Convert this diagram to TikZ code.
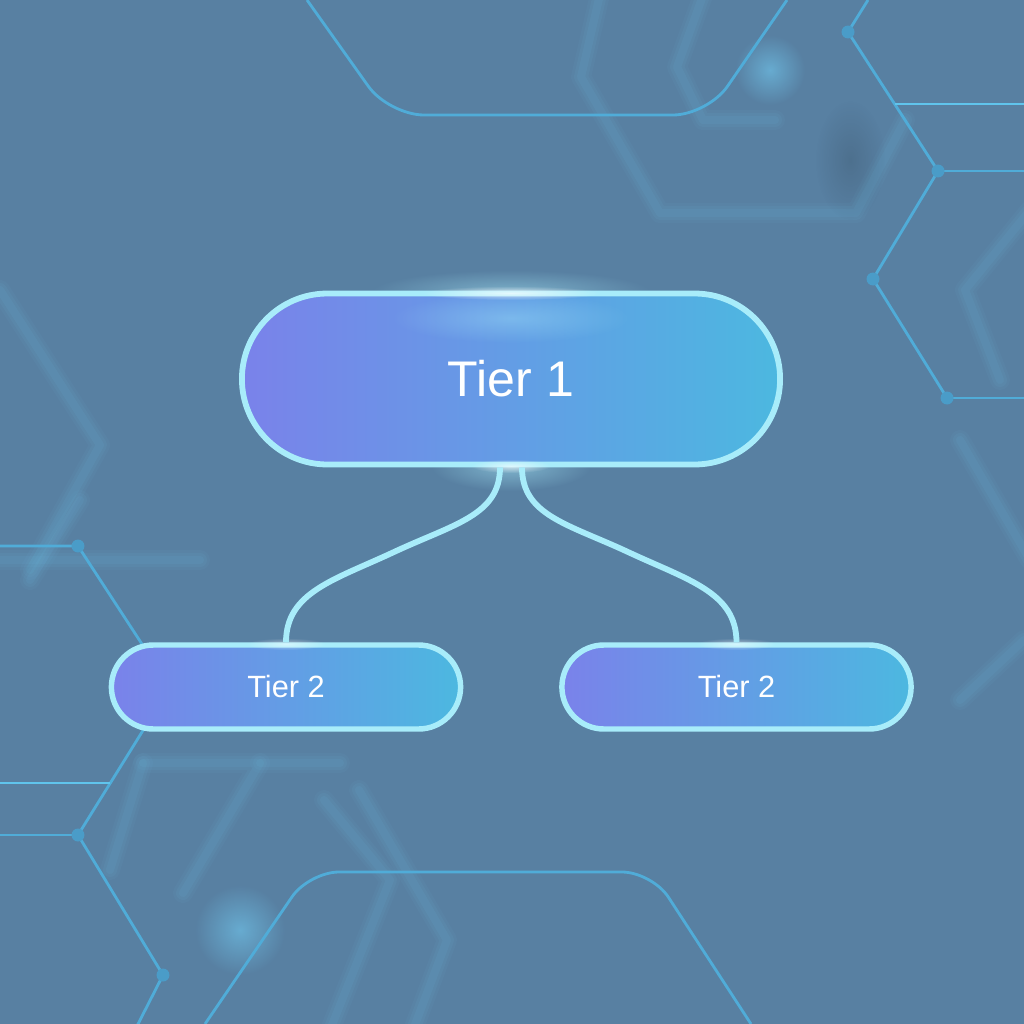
\documentclass[tikz,border=0pt]{standalone}
\usepackage{fontspec}
\setmainfont{Liberation Sans}
\usetikzlibrary{shapes.misc,fadings}
\definecolor{bg}{RGB}{88,128,162}
\definecolor{rim}{RGB}{168,236,250}
\definecolor{netc}{RGB}{80,172,216}
\definecolor{netb}{RGB}{96,196,236}
\definecolor{dotc}{RGB}{74,156,200}
\definecolor{blurc}{RGB}{110,190,228}
\definecolor{lft}{RGB}{122,130,234}
\definecolor{rgt}{RGB}{76,184,224}
\tikzfading[name=softfade, inner color=transparent!0, outer color=transparent!100]
\newcommand{\hazepath}[1]{%
  \foreach \w/\o in {0.40/0.05,0.28/0.07,0.16/0.09}{%
    \draw[blurc,line width=\w cm,opacity=\o,line join=round,line cap=round] #1;}}
\tikzset{
  tierone/.style={rounded rectangle, draw=rim, line width=3.3pt,
    left color=lft, right color=rgt, minimum width=11.0cm, minimum height=3.42cm,
    text=white, font=\fontsize{28.5}{32}\selectfont},
  tiertwo/.style={rounded rectangle, draw=rim, line width=3.1pt,
    left color=lft, right color=rgt, minimum width=7.22cm, minimum height=1.68cm,
    text=white, font=\fontsize{17.5}{20}\selectfont},
  link/.style={draw=rim, line width=3.3pt},
  net/.style={draw=netc, line width=1.6pt, line join=round},
  dotnode/.style={circle, fill=dotc, inner sep=0pt, minimum size=0.26cm},
  glow/.style={fill=#1, path fading=softfade}
}
\begin{document}
\begin{tikzpicture}[x=0.02cm,y=-0.02cm]
\useasboundingbox (0,0) rectangle (1024,1024);
\clip (0,0) rectangle (1024,1024);
\fill[bg] (0,0) rectangle (1024,1024);

% blurred background shapes
\hazepath{(601,-10) -- (581,77) -- (660,213) -- (856,213) -- (905,120)}
\hazepath{(705,-10) -- (677,67) -- (703,120) -- (775,120)}
\hazepath{(0,290) -- (100,445) -- (30,570)}
\hazepath{(0,560) -- (200,560)}
\hazepath{(30,580) -- (80,500)}
\hazepath{(143,763) -- (110,870)}
\hazepath{(143,763) -- (260,763) -- (183,893)}
\hazepath{(260,763) -- (340,763)}
\hazepath{(324,800) -- (390,880) -- (330,1030)}
\hazepath{(359,790) -- (447,940) -- (413,1030)}
\hazepath{(1030,210) -- (965,290) -- (1000,380)}
\hazepath{(960,440) -- (1030,560)}
\hazepath{(1024,640) -- (960,700)}
\fill[glow=blurc, opacity=0.7] (770,70) circle (35);
\fill[glow=blurc, opacity=0.7] (240,930) circle (45);
\fill[glow=black, opacity=0.12] (850,160) ellipse (35 and 60);

% crisp network lines
\draw[net] (307,0) -- (366,83) [rounded corners=0.7cm] -- (389,115) -- (708,115) [sharp corners] -- (727,87) -- (787,0);
\draw[net, rounded corners=0.6cm] (205,1024) -- (309,872) -- (652,872) -- (751,1024);
\draw[net] (868,0) -- (848,32) -- (938,171) -- (873,279) -- (947,398);
\draw[netb, line width=1.6pt] (895,104) -- (1024,104);
\draw[net] (938,171) -- (1024,171);
\draw[net] (947,398) -- (1024,398);
\draw[net] (0,546) -- (78,546) -- (170,687) -- (78,835) -- (163,975) -- (135,1030);
\draw[netb, line width=1.6pt] (0,783) -- (110,783);
\draw[net] (0,835) -- (78,835);
\node[dotnode] (d1) at (848,32) {};
\node[dotnode] (d2) at (938,171) {};
\node[dotnode] (d3) at (873,279) {};
\node[dotnode] (d4) at (947,398) {};
\node[dotnode] (d5) at (78,546) {};
\node[dotnode] (d6) at (78,835) {};
\node[dotnode] (d7) at (163,975) {};

% glows behind nodes
\fill[glow=rim, opacity=0.45] (511,292) ellipse (140 and 22);
\fill[glow=rim, opacity=0.5] (511,466) ellipse (80 and 25);

% nodes
\node[tierone] (t1) at (511,379) {Tier 1};
\node[tiertwo] (t2a) at (286,687) {Tier 2};
\node[tiertwo] (t2b) at (736.5,687) {Tier 2};

% highlights on node rims
\fill[glow=white, opacity=0.7] (511,293) ellipse (90 and 7);
\fill[glow=rim, opacity=0.35] (511,318) ellipse (120 and 25);
\fill[glow=white, opacity=0.6] (511,466) ellipse (40 and 7);
\fill[glow=white, opacity=0.5] (286,644) ellipse (40 and 6);
\fill[glow=white, opacity=0.5] (736,644) ellipse (40 and 6);

% connectors
\coordinate (m1) at (394,552);
\coordinate (m2) at (628,552);
\draw[link] ([xshift=-0.22cm]t1.south) .. controls +(0,48) and +(60,-28) .. (m1)
  .. controls +(-60,28) and +(0,-50) .. (t2a.north);
\draw[link] ([xshift=0.22cm]t1.south) .. controls +(0,48) and +(-60,-28) .. (m2)
  .. controls +(60,28) and +(0,-50) .. (t2b.north);
\end{tikzpicture}
\end{document}
